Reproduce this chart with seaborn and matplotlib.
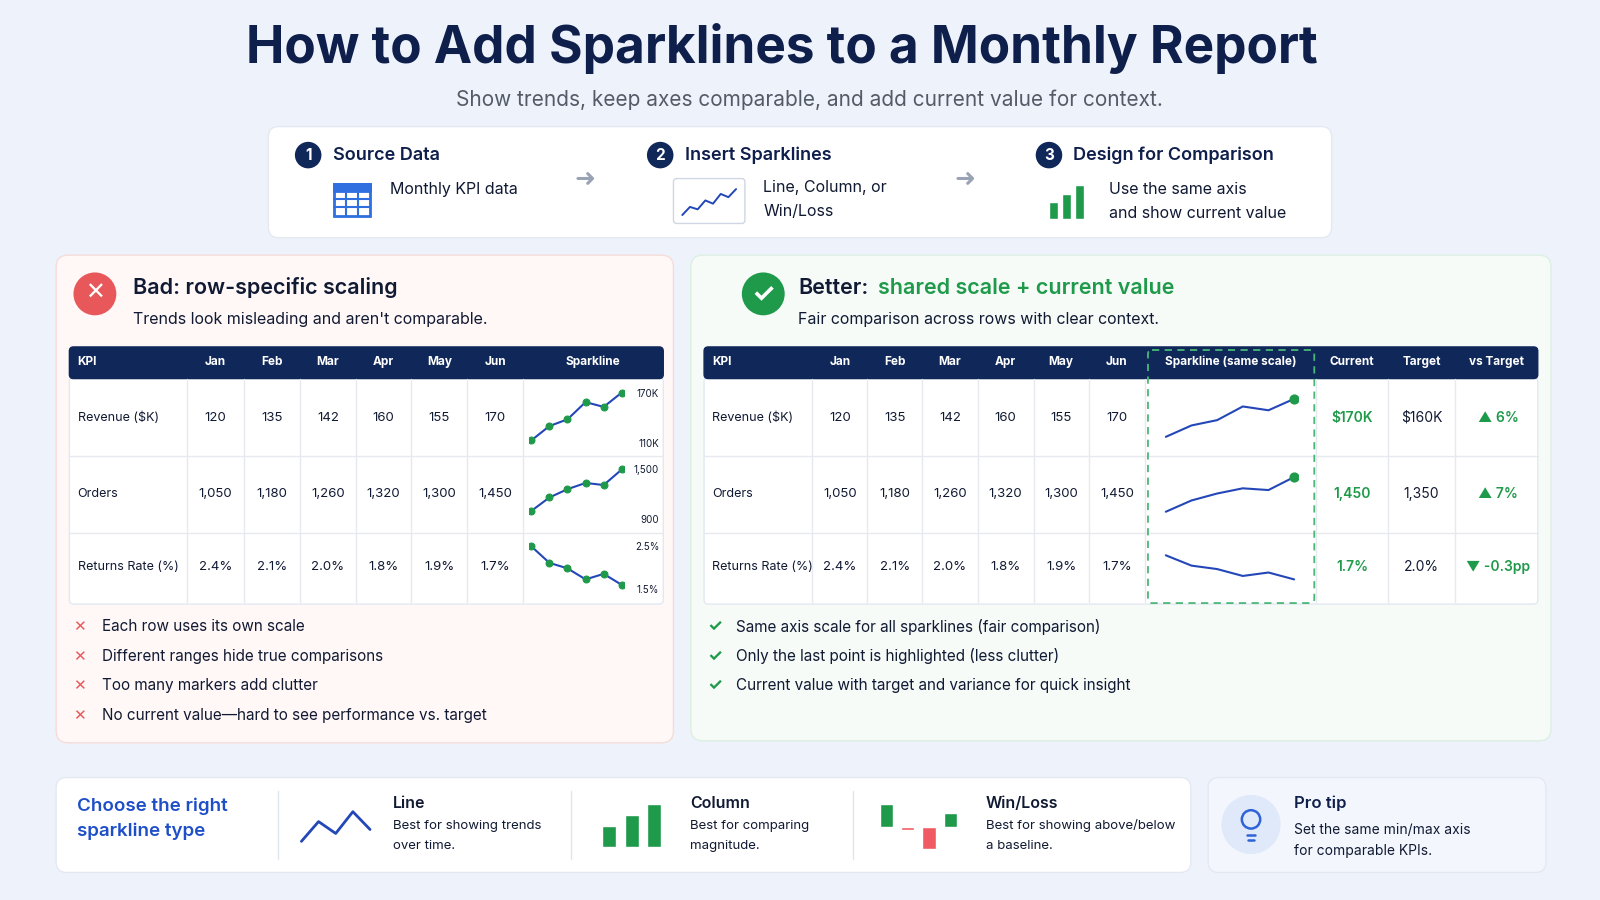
import matplotlib
matplotlib.use("Agg")
import matplotlib.pyplot as plt
import seaborn as sns
import pandas as pd
from matplotlib.patches import FancyBboxPatch, Circle, Rectangle

sns.set_theme(style="white")
plt.rcParams['font.family'] = ['Inter', 'DejaVu Sans']

months = ["Jan", "Feb", "Mar", "Apr", "May", "Jun"]
kpis = ["Revenue ($K)", "Orders", "Returns Rate (%)"]
revenue = [120, 135, 142, 160, 155, 170]
orders = [1050, 1180, 1260, 1320, 1300, 1450]
returns = [2.4, 2.1, 2.0, 1.8, 1.9, 1.7]
cell_text = [["120", "135", "142", "160", "155", "170"],
             ["1,050", "1,180", "1,260", "1,320", "1,300", "1,450"],
             ["2.4%", "2.1%", "2.0%", "1.8%", "1.9%", "1.7%"]]
row_scale_labels = [("170K", "110K"), ("1,500", "900"), ("2.5%", "1.5%")]
row_limits = [(110, 175), (900, 1500), (1.5, 2.5)]
current = ["$170K", "1,450", "1.7%"]
target = ["$160K", "1,350", "2.0%"]
vs_target = ["▲ 6%", "▲ 7%", "▼ -0.3pp"]
bad_points = ["Each row uses its own scale", "Different ranges hide true comparisons",
              "Too many markers add clutter", "No current value—hard to see performance vs. target"]
good_points = ["Same axis scale for all sparklines (fair comparison)",
               "Only the last point is highlighted (less clutter)",
               "Current value with target and variance for quick insight"]
icon_line = [1, 2, 1.7, 2.8, 2.4, 3.6, 3.2, 4.2]
icon_cols = [2, 3, 4]
icon_winloss = [2, -0.3, -2, 1.2]
series = [revenue, orders, returns]

NAVY = "#10275a"; GREEN = "#1f9a4a"; BLUE = "#2447b8"; RED = "#e8585a"; DARK = "#111a33"
W, H = 1568, 882
fig = plt.figure(figsize=(16, 9), dpi=100)
fig.patch.set_facecolor("#eef3fb")
ax = fig.add_axes([0, 0, 1, 1])
ax.set_xlim(0, W); ax.set_ylim(H, 0); ax.axis("off")

def T(x, y, s, size=10, color=DARK, weight="normal", ha="left", va="center", **kw):
    ax.text(x, y, s, fontsize=size, color=color, weight=weight, ha=ha, va=va, **kw)

def box(x0, y0, x1, y1, fc, ec="#e3e8f2", r=10, lw=1, z=0, **kw):
    ax.add_patch(FancyBboxPatch((x0, y0), x1 - x0, y1 - y0, boxstyle=f"round,pad=0,rounding_size={r}",
                                fc=fc, ec=ec, lw=lw, zorder=z, **kw))

def inset(x0, y0, x1, y1):
    a = fig.add_axes([x0 / W, 1 - y1 / H, (x1 - x0) / W, (y1 - y0) / H])
    a.axis("off"); a.patch.set_alpha(0)
    return a

# Title
T(766, 48, "How to Add Sparklines to a Monthly Report", 37, "#0f1f4b", "bold", ha="center")
T(793, 98, "Show trends, keep axes comparable, and add current value for context.", 15, "#555b66", ha="center")

# Steps
box(263, 124, 1305, 233, "white")
steps = [(302, "1", "Source Data"), (647, "2", "Insert Sparklines"), (1028, "3", "Design for Comparison")]
for cx, n, lab in steps:
    ax.add_patch(Circle((cx, 152), 13, fc=NAVY, ec="none", zorder=2))
    T(cx, 152, n, 11, "white", "bold", ha="center", zorder=3)
    T(cx + 24, 152, lab, 13, "#0f1f4b", "semibold")
ax.add_patch(Rectangle((327, 180), 36, 32, fc="white", ec="#2f6fe0", lw=2, zorder=2))
ax.add_patch(Rectangle((327, 180), 36, 7, fc="#2f6fe0", ec="#2f6fe0", lw=2, zorder=2))
for gx in [339, 351]:
    ax.plot([gx, gx], [187, 212], color="#2f6fe0", lw=1.5, zorder=3)
for gy in [195, 203]:
    ax.plot([327, 363], [gy, gy], color="#2f6fe0", lw=1.5, zorder=3)
T(382, 186, "Monthly KPI data", 11.5)
T(573, 176, "➜", 18, "#9aa3b5", ha="center")
T(946, 176, "➜", 18, "#9aa3b5", ha="center")
box(660, 175, 730, 219, "white", ec="#cfd6e4", r=3)
ai = inset(666, 184, 724, 212)
sns.lineplot(x=range(len(icon_line)), y=icon_line, ax=ai, color=BLUE, lw=1.4)
ai.axis("off")
T(748, 184, "Line, Column, or", 11.5); T(748, 207, "Win/Loss", 11.5)
ab = inset(1026, 180, 1064, 215)
sns.barplot(x=list(range(3)), y=icon_cols, ax=ab, color=GREEN, width=0.7, saturation=1)
ab.axis("off")
T(1087, 186, "Use the same axis", 11.5); T(1087, 209, "and show current value", 11.5)

# Panels
box(55, 250, 660, 728, "#fff8f7", ec="#f6dcd9", r=12)
box(677, 250, 1520, 726, "#f6fbf8", ec="#dcefe3", r=12)
ax.add_patch(Circle((93, 288), 21, fc=RED, ec="none", zorder=2))
T(93, 288, "✕", 17, "white", "bold", ha="center", zorder=3)
T(130, 282, "Bad: row-specific scaling", 15.5, "#111a33", "semibold")
T(130, 313, "Trends look misleading and aren't comparable.", 11.5)
ax.add_patch(Circle((748, 288), 21, fc=GREEN, ec="none", zorder=2))
T(748, 289, "✓", 19, "white", "bold", ha="center", zorder=3)
T(782, 282, "Better:", 15.5, "#111a33", "semibold")
T(860, 282, "shared scale + current value", 15.5, GREEN, "semibold")
T(782, 313, "Fair comparison across rows with clear context.", 11.5)

rows_y = [(372, 447), (447, 522), (522, 590)]

def table(x_edges, headers, y0=340):
    x0, x1 = x_edges[0], x_edges[-1]
    box(x0, y0 + 30, x1, 592, "white", ec="#e3e8f2", r=4)
    box(x0, y0, x1, y0 + 31, NAVY, ec=NAVY, r=4, z=1)
    for i, h in enumerate(headers):
        cx = x_edges[i] + 8 if i == 0 else (x_edges[i] + x_edges[i + 1]) / 2
        T(cx, y0 + 15, h, 8.5, "white", "bold", ha="left" if i == 0 else "center", zorder=3)
    for xe in x_edges[1:-1]:
        ax.plot([xe, xe], [y0 + 31, 590], color="#e6e9ef", lw=1, zorder=1)
    for (a, b) in rows_y[:-1]:
        ax.plot([x0, x1], [b, b], color="#e6e9ef", lw=1, zorder=1)

LX = [68, 183, 239, 294, 349, 403, 458, 513, 650]
table(LX, ["KPI"] + months + ["Sparkline"])
for r, (a, b) in enumerate(rows_y):
    cy = (a + b) / 2
    T(LX[0] + 8, cy, kpis[r], 9)
    for j in range(6):
        T((LX[j + 1] + LX[j + 2]) / 2, cy, cell_text[r][j], 9.5, ha="center")
    sa = inset(518, a + 8, 612, b - 6)
    df = pd.DataFrame({"m": range(6), "v": series[r]})
    sns.lineplot(data=df, x="m", y="v", ax=sa, color=BLUE, lw=1.5, marker="o",
                 markersize=5, markerfacecolor=GREEN, markeredgecolor=GREEN)
    sa.set_ylim(*row_limits[r]); sa.set_xlim(-0.15, 5.15); sa.axis("off")
    T(646, a + 14, row_scale_labels[r][0], 7, ha="right")
    T(646, b - 12, row_scale_labels[r][1], 7, ha="right")

RX = [690, 796, 850, 904, 958, 1013, 1067, 1122, 1290, 1360, 1426, 1507]
table(RX, ["KPI"] + months + ["Sparkline (same scale)", "Current", "Target", "vs Target"])
ax.add_patch(FancyBboxPatch((1125, 343), 163, 248, boxstyle="round,pad=0,rounding_size=4",
                            fc="none", ec="#49b877", lw=1.3, ls=(0, (4, 3)), zorder=4))
span = 84
for r, (a, b) in enumerate(rows_y):
    cy = (a + b) / 2
    T(RX[0] + 8, cy, kpis[r], 9)
    for j in range(6):
        T((RX[j + 1] + RX[j + 2]) / 2, cy, cell_text[r][j], 9.5, ha="center")
    idx = [v / series[r][0] * 100 for v in series[r]]
    mid = (max(idx) + min(idx)) / 2
    sa = inset(1140, a, 1272, b)
    df = pd.DataFrame({"m": range(6), "v": idx})
    sns.lineplot(data=df, x="m", y="v", ax=sa, color=BLUE, lw=1.5)
    if r < 2:
        sa.scatter([5], [idx[-1]], s=40, color=GREEN, zorder=5)
    sa.set_ylim(mid - span / 2, mid + span / 2); sa.set_xlim(-0.1, 5.15); sa.axis("off")
    T(1325, cy, current[r], 10, GREEN, "semibold", ha="center")
    T(1393, cy, target[r], 10, ha="center")
    T(1468, cy, vs_target[r], 10, GREEN, "semibold", ha="center")

for i, s in enumerate(bad_points):
    y = 614 + 29 * i
    T(78, y, "✕", 11, RED, "bold", ha="center")
    T(100, y, s, 11)
for i, s in enumerate(good_points):
    y = 614 + 29 * i
    T(700, y, "✓", 12, GREEN, "bold", ha="center")
    T(721, y, s, 11)

# Bottom strip
box(55, 762, 1167, 855, "white")
T(75, 790, "Choose the right", 13.5, "#1f4fc8", "semibold")
T(75, 815, "sparkline type", 13.5, "#1f4fc8", "semibold")
for xd in [272, 560, 836]:
    ax.plot([xd, xd], [775, 842], color="#e1e5ee", lw=1)
al = inset(292, 794, 366, 826)
sns.lineplot(x=range(5), y=[1, 3, 1.8, 4, 2.2], ax=al, color=BLUE, lw=2)
al.axis("off")
T(385, 787, "Line", 11.5, DARK, "semibold"); T(385, 809, "Best for showing trends", 9.5); T(385, 829, "over time.", 9.5)
ac = inset(586, 786, 652, 830)
sns.barplot(x=list(range(3)), y=icon_cols, ax=ac, color=GREEN, width=0.62, saturation=1)
ac.axis("off")
T(676, 787, "Column", 11.5, DARK, "semibold"); T(676, 809, "Best for comparing", 9.5); T(676, 829, "magnitude.", 9.5)
aw = inset(858, 786, 942, 834)
sns.barplot(x=list(range(4)), y=icon_winloss, ax=aw,
            palette=[GREEN if v > 0 else "#ef5a63" for v in icon_winloss], hue=list(range(4)),
            legend=False, width=0.62, saturation=1)
aw.axis("off")
T(966, 787, "Win/Loss", 11.5, DARK, "semibold"); T(966, 809, "Best for showing above/below", 9.5); T(966, 829, "a baseline.", 9.5)

box(1184, 762, 1515, 855, "#f3f7fd")
ax.add_patch(Circle((1226, 808), 29, fc="#dfe9fa", ec="none", zorder=2))
ax.add_patch(Circle((1226, 803), 9, fc="none", ec="#2f63d6", lw=1.8, zorder=3))
ax.plot([1222, 1230], [818, 818], color="#2f63d6", lw=1.8, zorder=3)
ax.plot([1223, 1229], [823, 823], color="#2f63d6", lw=1.8, zorder=3)
T(1268, 787, "Pro tip", 12, "#0f1f4b", "semibold")
T(1268, 813, "Set the same min/max axis", 10); T(1268, 834, "for comparable KPIs.", 10)

fig.savefig("out.png", dpi=100, facecolor=fig.get_facecolor())
